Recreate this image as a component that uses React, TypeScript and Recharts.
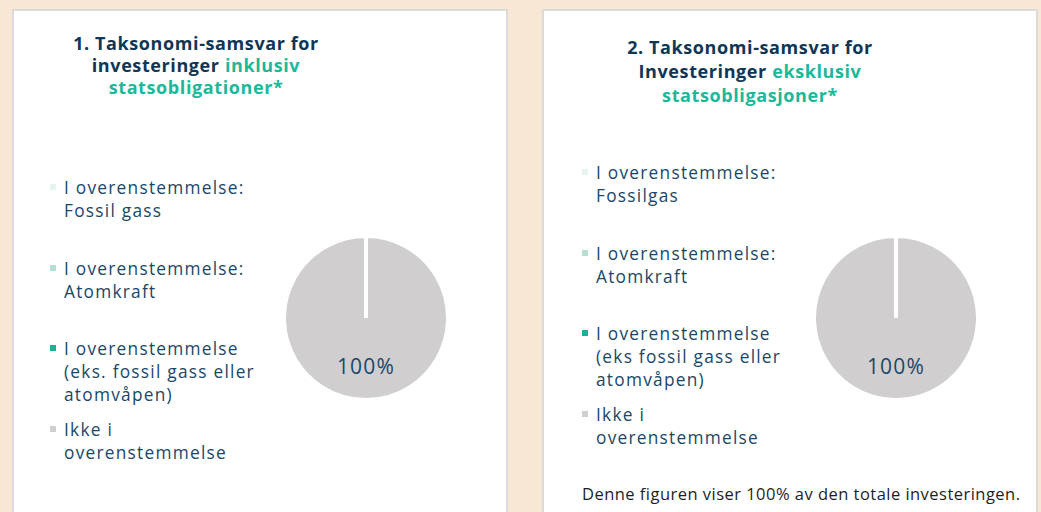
import React from 'react';
import { PieChart, Pie, Cell, Legend } from 'recharts';

const categories = [
  'I overenstemmelse: Fossil gass',
  'I overenstemmelse: Atomkraft',
  'I overenstemmelse (eks. fossil gass eller atomvåpen)',
  'Ikke i overenstemmelse',
];
const legendLines1 = [
  ['I overenstemmelse:', 'Fossil gass'],
  ['I overenstemmelse:', 'Atomkraft'],
  ['I overenstemmelse', '(eks. fossil gass eller', 'atomvåpen)'],
  ['Ikke i', 'overenstemmelse'],
];
const legendLines2 = [
  ['I overenstemmelse:', 'Fossilgas'],
  ['I overenstemmelse:', 'Atomkraft'],
  ['I overenstemmelse', '(eks fossil gass eller', 'atomvåpen)'],
  ['Ikke i', 'overenstemmelse'],
];
const values1 = [0, 0, 0, 100];
const values2 = [0, 0, 0, 100];
const colors = ['#e6f4ef', '#b3e0d2', '#16b394', '#d0cecf'];

const title1 = ['1. Taksonomi-samsvar for', 'investeringer ', 'inklusiv', 'statsobligationer*'];
const title2 = ['2. Taksonomi-samsvar for', 'Investeringer ', 'eksklusiv', 'statsobligasjoner*'];
const footnote2 = 'Denne figuren viser 100% av den totale investeringen.';

const NAVY = '#0f3654';
const TEXT = '#1a4767';
const TEAL = '#19b99a';
const FONT = '"Open Sans", sans-serif';

const RAD = Math.PI / 180;

const renderLabel = (p: any) => {
  if (!p.value) return null;
  const r = p.outerRadius * 0.585;
  const x = p.cx + r * Math.cos(-p.midAngle * RAD);
  const y = p.cy + r * Math.sin(-p.midAngle * RAD);
  return (
    <text x={x} y={y} fill={TEXT} fontSize={21} letterSpacing={1.2} fontFamily={FONT} textAnchor="middle" dominantBaseline="central">
      {`${Math.round(p.percent * 100)}%`}
    </text>
  );
};

const makeLegend = (lines: string[][]) => (props: any) => {
  const payload = props.payload || [];
  return (
    <div style={{ fontFamily: FONT, fontSize: 17.3, color: TEXT, lineHeight: '23px', letterSpacing: 1.25 }}>
      {payload.map((entry: any, i: number) => (
        <div key={i} style={{ position: 'relative', height: 80.5, paddingLeft: 14 }}>
          <span
            style={{
              position: 'absolute',
              left: 0,
              top: 8,
              width: 6,
              height: 6,
              background: colors[i],
            }}
          />
          {lines[i].map((l, j) => (
            <div key={j} style={{ whiteSpace: 'nowrap' }}>{l}</div>
          ))}
        </div>
      ))}
    </div>
  );
};

type PanelProps = {
  left: number;
  values: number[];
  lines: string[][];
  title: string[];
  titleCenter: number;
  titleTop: number;
  titleLH: number;
  legendLeft: number;
  legendTop: number;
  footnote?: string;
};

const Panel = (p: PanelProps) => {
  const data = categories.map((name, i) => ({ name, value: p.values[i] }));
  return (
    <div
      style={{
        position: 'absolute',
        left: p.left,
        top: 9,
        width: 496,
        height: 520,
        boxSizing: 'border-box',
        border: '2px solid #dbdbdb',
        background: '#ffffff',
      }}
    >
      <div
        style={{
          position: 'absolute',
          left: p.titleCenter - 200,
          width: 400,
          top: p.titleTop,
          textAlign: 'center',
          fontFamily: FONT,
          fontWeight: 700,
          fontSize: 18,
          letterSpacing: 0.6,
          lineHeight: `${p.titleLH}px`,
          color: NAVY,
        }}
      >
        {p.title[0]}
        <br />
        {p.title[1]}
        <span style={{ color: TEAL }}>{p.title[2]}</span>
        <br />
        <span style={{ color: TEAL }}>{p.title[3]}</span>
      </div>
      <div style={{ position: 'absolute', left: 0, top: 0 }}>
        <PieChart width={492} height={500}>
          <Pie
            data={data}
            dataKey="value"
            nameKey="name"
            cx={347}
            cy={302}
            outerRadius={82}
            startAngle={90}
            endAngle={-270}
            stroke="#ffffff"
            strokeWidth={4}
            label={renderLabel}
            labelLine={false}
            isAnimationActive={false}
          >
            {data.map((_, i) => (
              <Cell key={i} fill={colors[i]} />
            ))}
          </Pie>
          <Legend
            layout="vertical"
            content={makeLegend(p.lines)}
            wrapperStyle={{ left: p.legendLeft, top: p.legendTop, width: 240 }}
          />
        </PieChart>
      </div>
      {p.footnote && (
        <div
          style={{
            position: 'absolute',
            left: 38,
            top: 472,
            fontFamily: FONT,
            fontSize: 16.5,
            letterSpacing: 0.47,
            color: '#1e1e1e',
            whiteSpace: 'nowrap',
            lineHeight: '22px',
          }}
        >
          {p.footnote}
        </div>
      )}
    </div>
  );
};

export default function App() {
  return (
    <div
      style={{
        position: 'absolute',
        left: 0,
        top: 0,
        width: 1041,
        height: 512,
        overflow: 'hidden',
        background: '#f9e7d6',
      }}
    >
      <Panel
        left={12}
        values={values1}
        lines={legendLines1}
        title={title1}
        titleCenter={182}
        titleTop={21}
        titleLH={22}
        legendLeft={36}
        legendTop={165}
      />
      <Panel
        left={542}
        values={values2}
        lines={legendLines2}
        title={title2}
        titleCenter={206}
        titleTop={24}
        titleLH={24}
        legendLeft={38}
        legendTop={150}
        footnote={footnote2}
      />
    </div>
  );
}
